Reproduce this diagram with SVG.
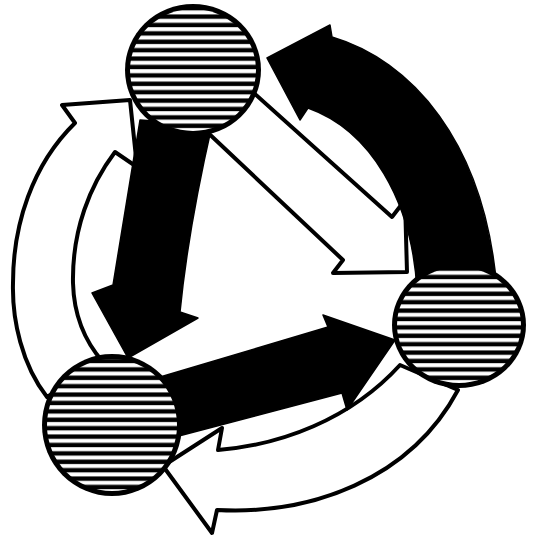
<svg xmlns="http://www.w3.org/2000/svg" width="533" height="540" viewBox="0 0 533 540">
<defs>
<pattern id="hatch" patternUnits="userSpaceOnUse" width="533" height="8.4">
<rect width="533" height="8.4" fill="#000"/>
<rect y="2" width="533" height="4" fill="#fff"/>
</pattern>
</defs>
<style>
.w{fill:#fff;stroke:#000;stroke-width:4;stroke-linejoin:round;stroke-linecap:round}
.b{fill:#000;stroke:#000;stroke-width:1.5;stroke-linejoin:round}
.ring{fill:#000}
.hatch{fill:url(#hatch)}
</style>
<rect width="533" height="540" fill="#fff"/>
<g id="connectors">
<path class="w" d="M75,123 L62,105 L130,100 L137,167 L115,152 C90,185 72,230 73,283 C74,320 88,345 103,362 L47,397 C22,365 12,320 13,283 C13,225 32,165 75,123 Z"/>
<path class="w" d="M245,85 L392,217 L405,200 L407,272 L333,273 L343,260 L205,130 Z"/>
<path class="w" d="M400,365 C350,420 280,445 218,450 L222,428 L163,466 L212,533 L217,510 C310,515 410,480 458,390 Z"/>
<path class="b" d="M140,120 L113,285 L92,293 L128,358 L198,318 L180,312 Q188,230 212,125 Z"/>
<path class="b" d="M150,380 L328,327 L323,315 L395,340 L347,410 L342,393 L175,437 Z"/>
<path class="b" d="M417,290 C412,200 370,130 308,108 L300,120 L267,58 L330,25 L332,37 C410,60 485,140 497,290 Z"/>
</g>
<g id="node-top"><ellipse class="ring" cx="193" cy="70" rx="68" ry="66"/><ellipse class="hatch" cx="193" cy="70" rx="63" ry="61"/></g>
<g id="node-left"><ellipse class="ring" cx="112" cy="425" rx="70" ry="71"/><ellipse class="hatch" cx="112" cy="425" rx="65" ry="66"/></g>
<g id="node-right"><ellipse class="ring" cx="459" cy="325" rx="67" ry="63"/><ellipse class="hatch" cx="459" cy="325" rx="62" ry="58"/></g>
</svg>
